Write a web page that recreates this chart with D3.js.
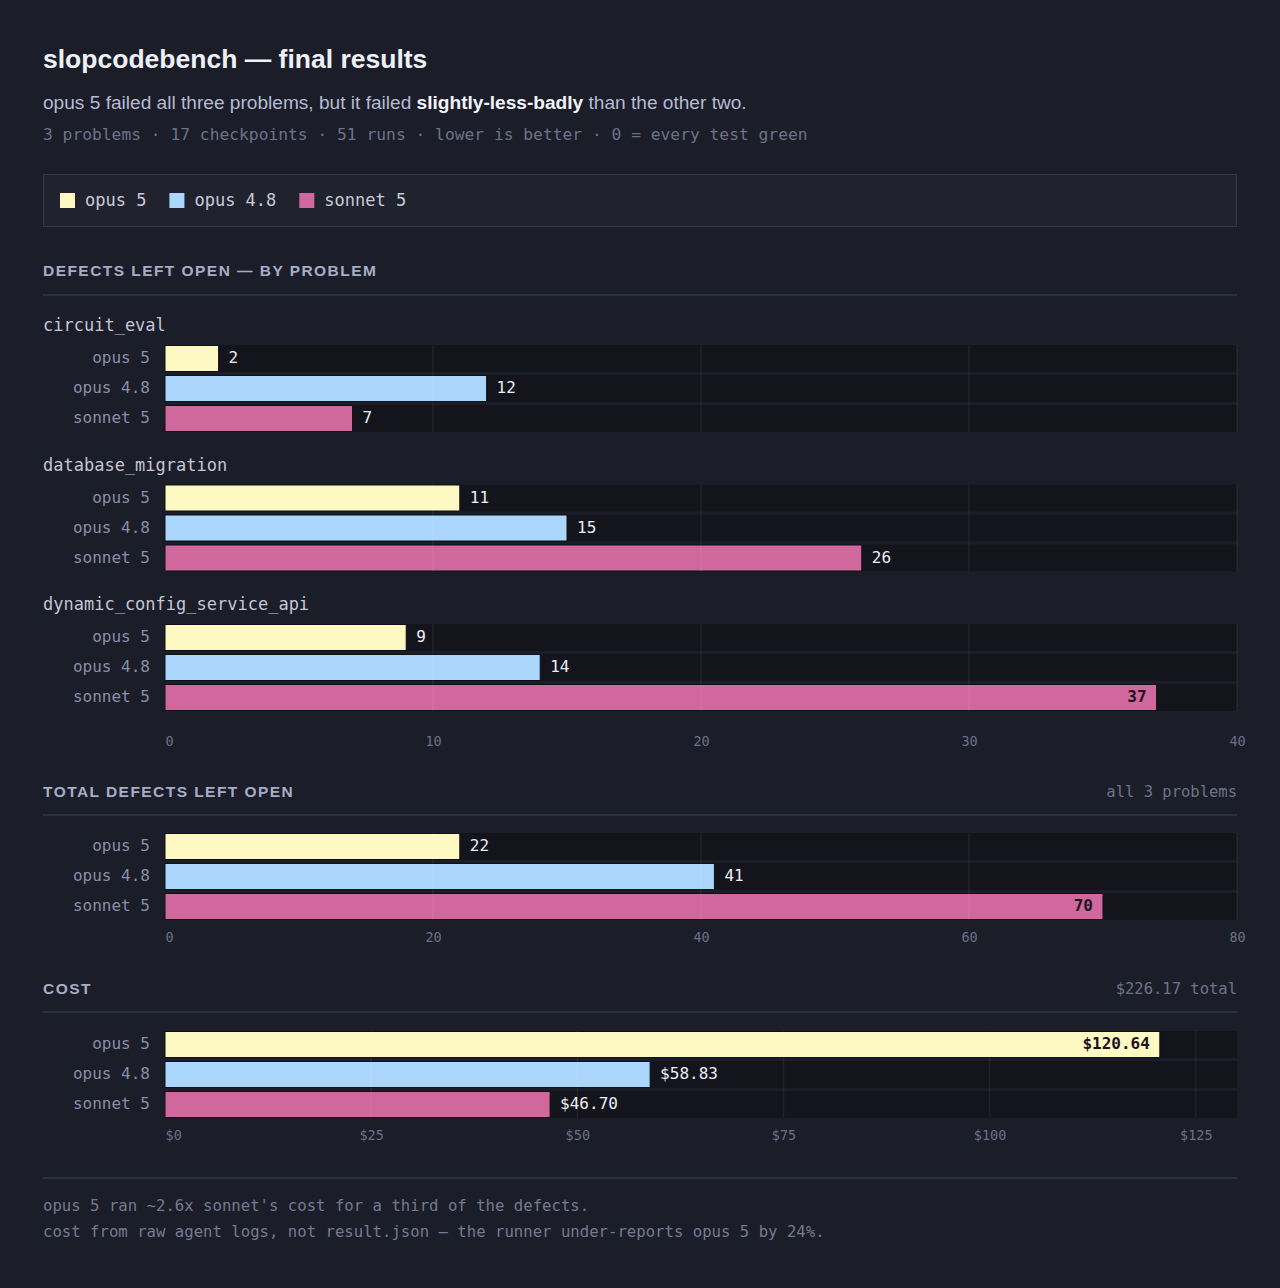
<!DOCTYPE html>
<html>
<head>
<meta charset="utf-8">
<script src="https://cdn.jsdelivr.net/npm/d3@7"></script>
<style>
  html, body { margin: 0; padding: 0; background: #1b1d28; }
  .mono { font-family: "DejaVu Sans Mono", "Liberation Mono", monospace; }
  .sans { font-family: "Liberation Sans", Arial, sans-serif; }
</style>
</head>
<body>
<div id="chart"></div>
<script>
// data
const models = ["opus 5", "opus 4.8", "sonnet 5"]
const colors = ["#fef8c2", "#acd7fd", "#d0689d"]
const problems = ["circuit_eval", "database_migration", "dynamic_config_service_api"]
const opus5Defects = [2, 11, 9]
const opus48Defects = [12, 15, 14]
const sonnet5Defects = [7, 26, 37]
const totalDefects = [22, 41, 70]
const costs = [120.64, 58.83, 46.70]
const defectTicks = [0, 10, 20, 30, 40]
const totalTicks = [0, 20, 40, 60, 80]
const costTicks = [0, 25, 50, 75, 100, 125]

const width = 1280, height = 1288
const left = 43, right = 1237
const plotX0 = 165, plotX1 = 1237
const rowH = 27, rowStep = 30

let svg = d3.select("#chart").append("svg")
    .attr("width", width)
    .attr("height", height)

svg.append("rect").attr("width", width).attr("height", height).attr("fill", "#1b1d28")

//title + subtitle
svg.append("text").attr("class", "sans")
    .attr("x", left).attr("y", 68)
    .attr("font-size", 26.5).attr("font-weight", "bold").attr("fill", "#eef0f8")
    .text("slopcodebench — final results")

let sub = svg.append("text").attr("class", "sans")
    .attr("x", left).attr("y", 109)
    .attr("font-size", 19.1).attr("fill", "#b6bbd4")
sub.append("tspan").text("opus 5 failed all three problems, but it failed ")
sub.append("tspan").attr("font-weight", "bold").attr("fill", "#f2f3fa").text("slightly-less-badly")
sub.append("tspan").text(" than the other two.")

svg.append("text").attr("class", "mono")
    .attr("x", left).attr("y", 140)
    .attr("font-size", 16.3).attr("fill", "#6e7288")
    .text("3 problems · 17 checkpoints · 51 runs · lower is better · 0 = every test green")

//legend
svg.append("rect")
    .attr("x", left + 0.5).attr("y", 174.5)
    .attr("width", right - left - 1).attr("height", 52)
    .attr("fill", "#20222e").attr("stroke", "#34374a")

let lx = 60
models.forEach((m, i) => {
    svg.append("rect").attr("x", lx).attr("y", 193).attr("width", 15).attr("height", 15).attr("fill", colors[i])
    let t = svg.append("text").attr("class", "mono")
        .attr("x", lx + 25).attr("y", 206)
        .attr("font-size", 17).attr("fill", "#c8cbd9")
        .text(m)
    lx += 25 + t.node().getComputedTextLength() + 23
})

/**
 * section header with rule under it
 */
function sectionHeader(label, note, y, ruleY) {
    svg.append("text").attr("class", "sans")
        .attr("x", left).attr("y", y + 6)
        .attr("font-size", 15.5).attr("font-weight", "bold")
        .attr("letter-spacing", 1.45).attr("fill", "#a8adc7")
        .text(label)
    if (note) {
        svg.append("text").attr("class", "mono")
            .attr("x", right).attr("y", y + 6)
            .attr("text-anchor", "end")
            .attr("font-size", 15.5).attr("fill", "#6e7288")
            .text(note)
    }
    svg.append("line")
        .attr("x1", left).attr("x2", right)
        .attr("y1", ruleY).attr("y2", ruleY)
        .attr("stroke", "#32354a").attr("stroke-width", 1.5)
}

/**
 * three model bars on a shared scale
 */
function barRows(top, values, xScale, ticks, fmt) {
    let g = svg.append("g").attr("transform", `translate(0,${top})`)
    let rows = g.selectAll(".row").data(values).enter().append("g")
        .attr("class", "row")
        .attr("transform", (d, i) => `translate(0,${i * rowStep})`)

    //tracks
    rows.append("rect")
        .attr("x", plotX0).attr("y", 0)
        .attr("width", plotX1 - plotX0).attr("height", rowH)
        .attr("fill", "#14151c")

    //model labels
    rows.append("text").attr("class", "mono")
        .attr("x", 150).attr("y", rowH / 2 + 4.8)
        .attr("text-anchor", "end")
        .attr("font-size", 16).attr("fill", "#8a8ea6")
        .text((d, i) => models[i])

    //bars
    rows.append("rect")
        .attr("x", xScale(0)).attr("y", 0.5)
        .attr("width", d => xScale(d) - xScale(0)).attr("height", rowH - 1)
        .attr("fill", (d, i) => colors[i])
        .attr("stroke", "#0f1016").attr("stroke-width", 1)

    //grid lines over the bars
    ticks.filter(t => t > 0).forEach(t => {
        g.append("line")
            .attr("x1", xScale(t)).attr("x2", xScale(t))
            .attr("y1", 0).attr("y2", (values.length - 1) * rowStep + rowH)
            .attr("stroke", "#ffffff").attr("stroke-opacity", 0.06).attr("stroke-width", 1.5)
    })

    //value labels
    let max = xScale.domain()[1]
    rows.append("text").attr("class", "mono")
        .attr("y", rowH / 2 + 4.8)
        .attr("font-size", 16)
        .each(function (d) {
            let inside = d / max > 0.85
            d3.select(this)
                .attr("x", inside ? xScale(d) - 10 : xScale(d) + 10)
                .attr("text-anchor", inside ? "end" : "start")
                .attr("font-weight", inside ? "bold" : "normal")
                .attr("fill", inside ? "#1e1220" : "#eceef6")
        })
        .text(d => fmt(d))
}

/**
 * bottom tick labels through d3 axis
 */
function axisRow(y, xScale, ticks, fmt) {
    let ax = svg.append("g")
        .attr("transform", `translate(0,${y})`)
        .call(d3.axisBottom(xScale).tickValues(ticks).tickSize(0).tickPadding(0).tickFormat(fmt))
    ax.select(".domain").remove()
    ax.selectAll("text")
        .attr("class", "mono")
        .attr("font-family", "DejaVu Sans Mono")
        .attr("font-size", 13.5)
        .attr("fill", "#6c7088")
        .attr("dy", "0.35em")
    ax.selectAll(".tick").filter(d => d === 0).select("text").attr("text-anchor", "start")
}

// section 1: per problem
sectionHeader("DEFECTS LEFT OPEN — BY PROBLEM", null, 270, 295)
let xDef = d3.scaleLinear().domain([0, 40]).range([plotX0, plotX1])
const groupY = [325, 464.5, 604]
problems.forEach((p, j) => {
    svg.append("text").attr("class", "mono")
        .attr("x", left).attr("y", groupY[j] + 6)
        .attr("font-size", 17).attr("fill", "#c3c6d6")
        .text(p)
    barRows(groupY[j] + 20, [opus5Defects[j], opus48Defects[j], sonnet5Defects[j]], xDef, defectTicks, d => d)
})
axisRow(741, xDef, defectTicks, d => d)

// section 2: totals
sectionHeader("TOTAL DEFECTS LEFT OPEN", "all 3 problems", 791, 815)
let xTot = d3.scaleLinear().domain([0, 80]).range([plotX0, plotX1])
barRows(833, totalDefects, xTot, totalTicks, d => d)
axisRow(937, xTot, totalTicks, d => d)

// section 3: cost
sectionHeader("COST", "$" + d3.sum(costs).toFixed(2) + " total", 988, 1012)
let xCost = d3.scaleLinear().domain([0, 130]).range([plotX0, plotX1])
barRows(1031, costs, xCost, costTicks, d => "$" + d.toFixed(2))
axisRow(1135, xCost, costTicks, d => "$" + d)

//footer
svg.append("line")
    .attr("x1", left).attr("x2", right)
    .attr("y1", 1178).attr("y2", 1178)
    .attr("stroke", "#32354a").attr("stroke-width", 1.5)
svg.append("text").attr("class", "mono")
    .attr("x", left).attr("y", 1211)
    .attr("font-size", 15.65).attr("fill", "#767a91")
    .text("opus 5 ran ~2.6x sonnet's cost for a third of the defects.")
svg.append("text").attr("class", "mono")
    .attr("x", left).attr("y", 1237)
    .attr("font-size", 15.65).attr("fill", "#767a91")
    .text("cost from raw agent logs, not result.json — the runner under-reports opus 5 by 24%.")
</script>
</body>
</html>
